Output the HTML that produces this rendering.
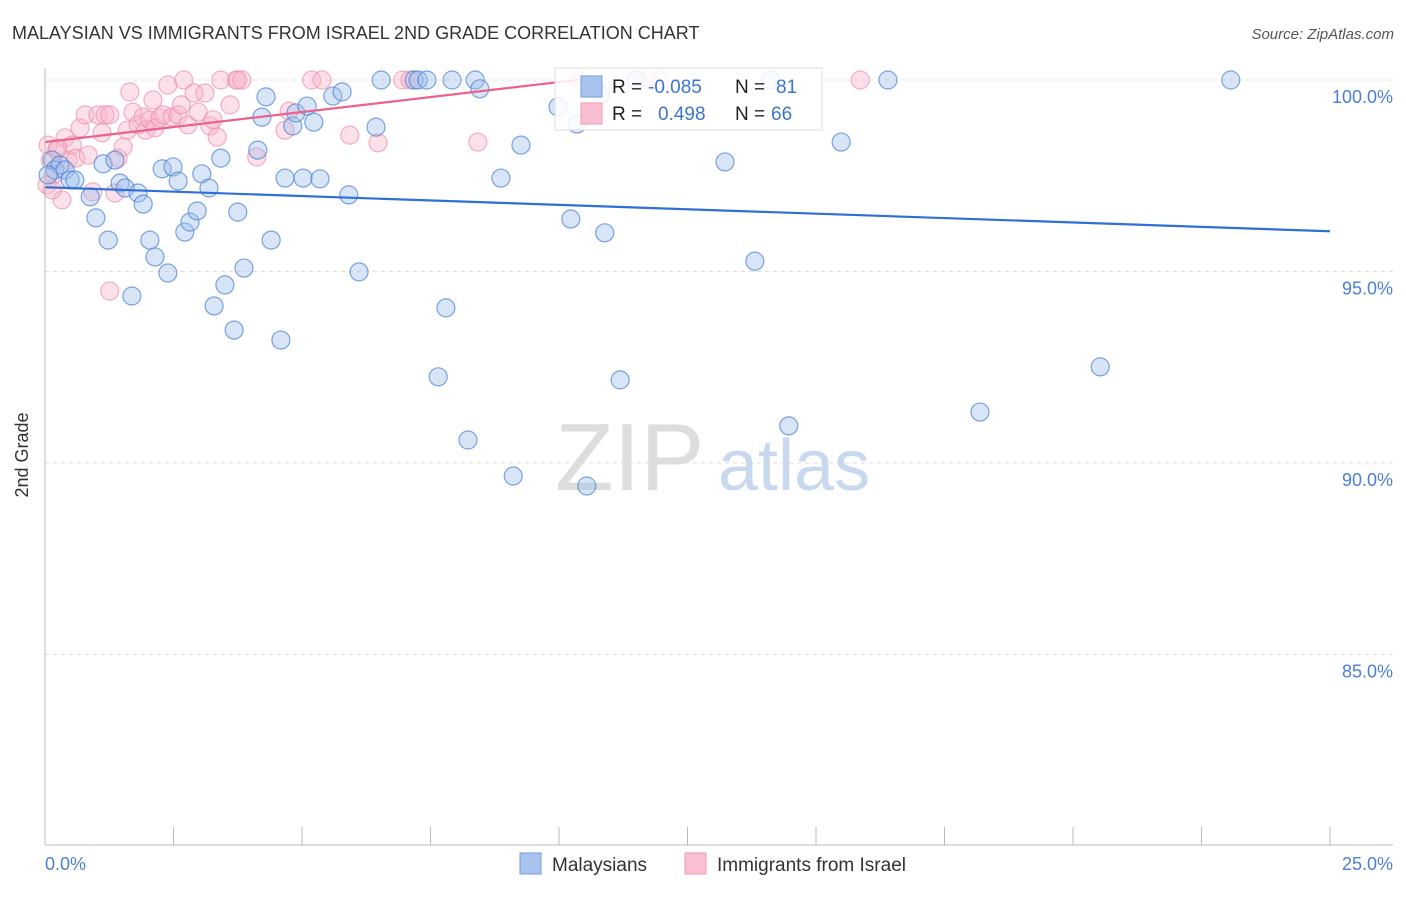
<!DOCTYPE html>
<html><head><meta charset="utf-8"><style>
body{margin:0;background:#fff;font-family:"Liberation Sans",sans-serif;}
svg text{font-family:"Liberation Sans",sans-serif;}
</style></head><body>
<svg width="1406" height="892" viewBox="0 0 1406 892">
<text x="12" y="39" font-size="18" fill="#333">MALAYSIAN VS IMMIGRANTS FROM ISRAEL 2ND GRADE CORRELATION CHART</text>
<text x="1394" y="39" font-size="15" fill="#555" font-style="italic" text-anchor="end">Source: ZipAtlas.com</text>
<g id="grid"></g>
<text x="555" y="490" font-size="96" fill="#ddd" font-family="Liberation Serif">ZIP</text>
<text x="718" y="490" font-size="72" fill="#c8d8ef">atlas</text>
<g id="pts"></g>
<g id="lines"></g>
<g id="axes"></g>
<text x="28" y="455" font-size="18" fill="#333" text-anchor="middle" transform="rotate(-90 28 455)">2nd Grade</text>
<text x="45" y="870" font-size="18" fill="#4a7fd4">0.0%</text>
<text x="1393" y="870" font-size="18" fill="#4a7fd4" text-anchor="end">25.0%</text>
<g>
<rect x="555" y="68" width="267" height="62" fill="#fff" fill-opacity="0.85" stroke="#ddd"/>
<rect x="581" y="76" width="21" height="21" fill="#a8c4ee" stroke="#6f9ce0"/>
<rect x="581" y="103" width="21" height="21" fill="#f9c0d2" stroke="#f09ab6"/>
<text x="612" y="93" font-size="19" fill="#222">R = </text><text x="648" y="93" font-size="19" fill="#3a75d0">-0.085</text>
<text x="735" y="93" font-size="19" fill="#222">N = </text><text x="776" y="93" font-size="19" fill="#3a75d0">81</text>
<text x="612" y="120" font-size="19" fill="#222">R = </text><text x="658" y="120" font-size="19" fill="#3a75d0">0.498</text>
<text x="735" y="120" font-size="19" fill="#222">N = </text><text x="771" y="120" font-size="19" fill="#3a75d0">66</text>
</g>
<g>
<rect x="520" y="853" width="21" height="21" fill="#a8c4ee" stroke="#6f9ce0"/>
<text x="552" y="871" font-size="19" fill="#333">Malaysians</text></g>
<g>
<rect x="685" y="853" width="21" height="21" fill="#f9c0d2" stroke="#f09ab6"/>
<text x="717" y="871" font-size="19" fill="#333">Immigrants from Israel</text></g>
</svg>
<script>
const blueX=[.14,.19,.29,.39,.06,.49,.58,.88,.99,1.13,1.23,1.36,1.46,1.56,1.69,1.81,1.91,2.04,2.14,2.28,2.39,2.49,2.59,2.72,2.82,2.96,3.05,3.19,3.29,3.42,3.50,3.68,3.75,3.87,4.14,4.22,4.30,4.40,4.59,4.67,4.82,4.88,5.02,5.10,5.23,5.35,5.60,5.78,5.91,6.11,6.44,6.54,7.18,7.26,7.43,7.65,7.80,7.92,8.23,8.37,8.46,8.87,9.11,9.26,9.98,10.23,10.35,10.54,10.89,11.19,11.50,13.23,13.81,14.11,14.47,15.49,16.40,18.19,20.53,23.07,10.80];
const blueY=[97.91,97.65,97.78,97.65,97.52,97.39,97.39,96.95,96.40,97.81,95.82,97.91,97.31,97.18,94.36,97.05,96.76,95.82,95.38,97.68,94.96,97.73,97.36,96.03,96.29,96.58,97.55,97.18,94.10,97.96,94.65,93.47,96.55,95.09,98.17,99.03,99.56,95.82,93.21,97.44,98.80,99.14,97.44,99.32,98.90,97.42,99.58,99.69,97.00,94.99,98.77,100,100,100,100,92.25,94.05,100,90.60,100,99.77,97.44,89.66,98.30,99.30,96.37,98.85,89.40,96.01,92.17,100,97.86,95.27,100,90.97,98.38,100,91.33,92.51,100,99.61];
const pinkX=[.06,.10,.16,.23,.33,.39,.45,.53,.60,.68,.78,.84,.93,1.03,1.11,1.17,1.26,1.36,1.42,1.52,1.60,1.65,1.71,1.81,1.91,1.96,2.04,2.10,2.14,2.24,2.30,2.39,2.47,2.59,2.65,2.70,2.78,2.90,2.98,3.11,3.21,3.27,3.35,3.42,3.60,3.72,3.75,3.83,4.12,4.67,4.75,5.19,5.39,5.93,6.48,6.96,7.10,8.42,10.37,11.73,11.96,15.86,1.26,.04,.14,.25];
const pinkY=[98.30,97.91,97.52,98.17,96.87,98.49,97.91,98.30,97.96,98.75,99.09,98.04,97.08,99.09,98.62,99.09,99.09,97.05,97.96,98.25,98.69,99.69,99.16,98.83,99.03,98.69,98.96,99.48,98.75,99.01,99.09,99.87,99.03,99.09,99.35,100,98.83,99.66,99.16,99.66,98.80,98.96,98.51,100,99.35,100,100,100,97.99,98.69,99.19,100,100,98.56,98.36,100,100,98.38,100,100,100,100,94.49,97.26,97.13,98.22];
const blueTrend=[[0,97.2],[25,96.05]];
const pinkTrend=[[0,98.38],[10.6,100.04]];
const yTicks=[100,95,90,85];
const yTickLabels=["100.0%","95.0%","90.0%","85.0%"];
const xTicks=[0,2.5,5,7.5,10,12.5,15,17.5,20,22.5,25];
const X=v=>45+v*51.4, Y=v=>80+(100-v)*38.3;
const NS="http://www.w3.org/2000/svg";
function mk(t,a,p){const e=document.createElementNS(NS,t);for(const k in a)e.setAttribute(k,a[k]);p.appendChild(e);return e;}
const grid=document.getElementById('grid'),axes=document.getElementById('axes'),pts=document.getElementById('pts'),lines=document.getElementById('lines');
yTicks.forEach((v,i)=>{
 const l=mk('line',{x1:45,x2:1393,y1:Y(v),y2:Y(v),stroke:'#ddd','stroke-dasharray':'4,4'},grid);
 
 
 const t=mk('text',{x:1393,y:Y(v)+23,'font-size':18,fill:'#4a7fd4','text-anchor':'end'},grid);
 t.textContent=yTickLabels[i];
 
 
});
const ya=mk('line',{x1:45,x2:45,y1:68,y2:845,stroke:'#bbb'},axes);


const xa=mk('line',{x1:45,x2:1393,y1:845,y2:845,stroke:'#bbb'},axes);


xTicks.forEach(v=>{
 const t=mk('line',{x1:X(v),x2:X(v),y1:827,y2:845,stroke:'#bbb'},axes);
 
 
});
pinkX.forEach((x,i)=>{
 const c=mk('circle',{cx:X(x),cy:Y(pinkY[i]),r:9,fill:'#f7b3c8','fill-opacity':0.4,stroke:'#ee8fae','stroke-opacity':0.7,'stroke-width':1.2},pts);
 
 
});
blueX.forEach((x,i)=>{
 const c=mk('circle',{cx:X(x),cy:Y(blueY[i]),r:9,fill:'#9dbdec','fill-opacity':0.4,stroke:'#4f86d8','stroke-opacity':0.75,'stroke-width':1.2},pts);
 
 
});
const bl=mk('line',{x1:X(blueTrend[0][0]),y1:Y(blueTrend[0][1]),x2:X(blueTrend[1][0]),y2:Y(blueTrend[1][1]),stroke:'#2f6fd6','stroke-width':2.2},lines);


const pl=mk('line',{x1:X(pinkTrend[0][0]),y1:Y(pinkTrend[0][1]),x2:X(pinkTrend[1][0]),y2:Y(pinkTrend[1][1]),stroke:'#e9628e','stroke-width':2.2},lines);


</script>
</body></html>
